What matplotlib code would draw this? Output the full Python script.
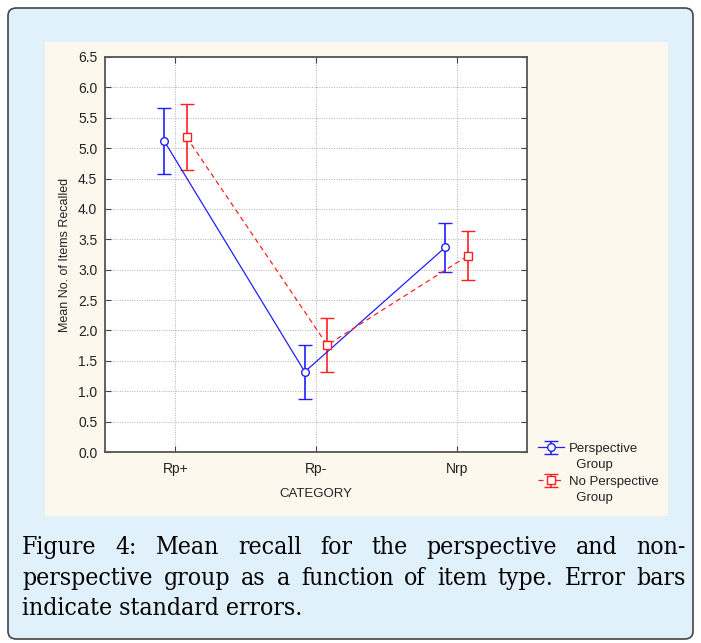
import matplotlib
matplotlib.use("Agg")
import matplotlib.pyplot as plt
from matplotlib.patches import FancyBboxPatch, Rectangle
from matplotlib.lines import Line2D
import numpy as np

categories = ["Rp+", "Rp-", "Nrp"]
persp_mean = [5.12, 1.32, 3.37]
persp_se = [0.54, 0.44, 0.40]
nopersp_mean = [5.18, 1.76, 3.23]
nopersp_se = [0.545, 0.44, 0.40]
series_labels = ["Perspective", "  Group", "No Perspective", "  Group"]
caption_lines = [
    "Figure 4:  Mean recall for the perspective and non-",
    "perspective group as a function of item type. Error bars",
    "indicate standard errors.",
]

W, H = 701, 643
fig = plt.figure(figsize=(W / 100, H / 100), dpi=100)
fig.patch.set_facecolor("white")

def px(x0, y0, x1, y1):
    # pixel box (top-left origin) -> figure fraction rect
    return [x0 / W, 1 - y1 / H, (x1 - x0) / W, (y1 - y0) / H]

# outer light blue frame with border
bg = FancyBboxPatch((8 / W, 4 / H), (W - 16) / W, (H - 12) / H,
                    boxstyle="round,pad=0,rounding_size=0.012",
                    transform=fig.transFigure, facecolor="#e1f1fc",
                    edgecolor="#444444", linewidth=1.2, zorder=-3)
fig.patches.append(bg)
# cream inner panel
r = px(45, 42, 668, 516)
fig.patches.append(Rectangle((r[0], r[1]), r[2], r[3], transform=fig.transFigure,
                             facecolor="#fdf8ee", edgecolor="none", zorder=-2))

ax = fig.add_axes(px(105, 57, 527, 452))
ax.set_zorder(5)
ax.set_facecolor("white")
x = np.arange(len(categories))
off = 0.08

blue = "#1f1fff"
red = "#ff2020"
e1 = ax.errorbar(x - off, persp_mean, yerr=persp_se, color=blue, lw=0.9, capsize=5,
                 capthick=1.2, elinewidth=1.2, marker="o", ms=5.5, mfc="white",
                 mec=blue, mew=1.0, zorder=3)
e2 = ax.errorbar(x + off, nopersp_mean, yerr=nopersp_se, color=red, lw=0.9, ls=(0, (4, 3)),
                 capsize=5, capthick=1.2, elinewidth=1.2, marker="s", ms=5.5, mfc="white",
                 mec=red, mew=1.0, zorder=3)

ax.set_xlim(-0.5, 2.5)
ax.set_ylim(0, 6.5)
ax.set_xticks(x)
ax.set_xticklabels(categories)
ax.set_yticks(np.arange(0, 6.51, 0.5))
ax.set_yticklabels(["%.1f" % v for v in np.arange(0, 6.51, 0.5)])
ax.grid(True, color="#b0b0b0", ls=(0, (1, 1.5)), lw=0.7)
ax.tick_params(direction="in", length=4, right=True, top=True, color="#444444",
               labelsize=10, labelcolor="#222222")
ax.tick_params(axis="y", pad=5.5)
ax.tick_params(axis="x", pad=7)
for s in ax.spines.values():
    s.set_color("#555555")
    s.set_linewidth(1.3)
for lab in ax.get_xticklabels() + ax.get_yticklabels():
    lab.set_family("Liberation Sans")

ax.set_ylabel("Mean No. of Items Recalled", fontsize=9, family="Liberation Sans",
              color="#222222", labelpad=5)
ax.set_xlabel("CATEGORY", fontsize=9.5, family="Liberation Sans", color="#222222",
              labelpad=9)

# legend outside axes; "Group" rows get an invisible handle
blank = Line2D([], [], alpha=0)
leg = fig.legend([e1, blank, e2, blank], series_labels, loc="upper left",
                 bbox_to_anchor=(531 / W, 1 - 436 / H), frameon=False,
                 prop={"family": "Liberation Sans", "size": 9.5}, handlelength=2.0,
                 handletextpad=0.4, labelspacing=0.32, borderpad=0)
for t in leg.get_texts():
    t.set_color("#222222")

# justified caption
fig.canvas.draw()
rend = fig.canvas.get_renderer()
left_px, right_px = 22, 686
base_y = [554, 585, 615]
cap_kw = dict(family="DejaVu Serif", stretch="condensed", size=17.7, color="black",
              va="baseline")
for i, line in enumerate(caption_lines):
    yf = 1 - base_y[i] / H
    if i == len(caption_lines) - 1:
        fig.text(left_px / W, yf, line, **cap_kw)
        continue
    words = line.split()
    texts = [fig.text(0, yf, w_, **cap_kw) for w_ in words]
    widths = [t.get_window_extent(rend).width for t in texts]
    gap = (right_px - left_px - sum(widths)) / (len(words) - 1)
    xp = left_px
    for t, wd in zip(texts, widths):
        t.set_x(xp / W)
        xp += wd + gap

fig.savefig("out.png", dpi=100)
